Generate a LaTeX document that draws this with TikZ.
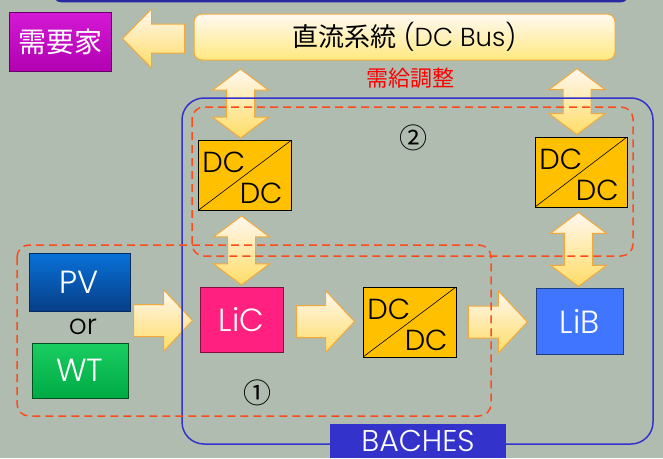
\documentclass[tikz,border=0pt]{standalone}
\usepackage{fontspec}
\setmainfont{Poppins Light}
\newfontfamily\jpfont{Noto Sans CJK JP}
\usetikzlibrary{calc}

\definecolor{bggray}{HTML}{B1BCB0}
\definecolor{bachesblue}{HTML}{3333CC}
\definecolor{dashred}{HTML}{FF4A1A}
\definecolor{convyellow}{HTML}{FFC000}
\definecolor{arrowedge}{HTML}{F2A93B}
\definecolor{demandpink}{HTML}{D000D0}
\definecolor{pvtop}{HTML}{0872D8}
\definecolor{pvbottom}{HTML}{083E88}
\definecolor{wtgreen}{HTML}{00C850}
\definecolor{licpink}{HTML}{FF2080}
\definecolor{libblue}{HTML}{4076FF}

\begin{document}
\begin{tikzpicture}[x=1pt,y=-1pt,
    tile/.style={inner sep=0pt,text=white,line width=1pt,font=\fontsize{32}{32}\selectfont},
    dclabel/.style={inner sep=0pt,minimum width=0pt,minimum height=0pt,font=\fontsize{29}{29}\selectfont},
    conv/.style={draw=black,line width=0.8pt,fill=convyellow,inner sep=0pt,
        minimum width=93pt,minimum height=70pt,
        path picture={
            \draw[line width=0.6pt] (path picture bounding box.south west) -- (path picture bounding box.north east);
            \node[dclabel,anchor=base west] at ($(path picture bounding box.north west)+(4,32)$) {DC};
            \node[dclabel,anchor=base east] at ($(path picture bounding box.south east)+(-8,-7)$) {DC};
        }},
    arrowfill/.style={draw=arrowedge,line width=1pt,top color=orange!6,bottom color=orange!45!yellow!60},
    region/.style={draw=dashred,line width=1.5pt,dash pattern=on 8pt off 5pt,rounded corners=12pt},
    pics/rarrow/.style={code={
        \path[arrowfill] (0,-16) -- (#1-29,-16) -- (#1-29,-31) -- (#1,0) -- (#1-29,31)
            -- (#1-29,16) -- (0,16) -- cycle;}},
    pics/larrow/.style={code={
        \path[arrowfill] (0,0) -- (29,-29.5) -- (29,-14.5) -- (#1,-14.5) -- (#1,14.5)
            -- (29,14.5) -- (29,29.5) -- cycle;}},
    pics/darrow/.style={code={
        \path[arrowfill] (0,0) -- (28,21) -- (14,21) -- (14,#1-21) -- (28,#1-21) -- (0,#1)
            -- (-28,#1-21) -- (-14,#1-21) -- (-14,21) -- (-28,21) -- cycle;}}]

    % background
    \useasboundingbox (0,0) rectangle (663,458);
    \fill[bggray] (0,0) rectangle (663,458);
    \draw[bachesblue!80!black,line width=2.5pt,rounded corners=6pt] (55,-20) -- (55,1) -- (627,1) -- (627,-20);

    % blocks
    \node[tile,top color=demandpink!90!white,bottom color=demandpink!85!black,draw=demandpink!50!black,
        minimum width=102pt,minimum height=59pt,
        font=\jpfont\fontsize{28}{28}\selectfont] (demand) at (60,41.5) {需要家};
    \node[draw=arrowedge,line width=1pt,rounded corners=8pt,top color=orange!5,bottom color=orange!35!yellow!50,
        minimum width=421pt,minimum height=46pt,font=\fontsize{26}{26}\selectfont] (bus) at (404.5,37)
        {{\jpfont 直流系統} (DC Bus)};
    \node[text=red,font=\jpfont\fontsize{22}{22}\selectfont] (adjust) at (410,78) {需給調整};

    \node[conv] (dc1) at (244.5,175.5) {};
    \node[conv,minimum width=92pt] (dc2) at (581,172) {};
    \node[conv] (dc3) at (409.5,322) {};

    \node[tile,top color=pvtop,bottom color=pvbottom,draw=pvbottom!70!black,
        minimum width=101pt,minimum height=58pt] (pv) at (79.5,282) {PV};
    \node[font=\fontsize{28}{28}\selectfont] (or) at (83,327) {or};
    \node[tile,top color=wtgreen!90!white,bottom color=wtgreen!85!black,draw=wtgreen!40!black,
        minimum width=96pt,minimum height=55pt] (wt) at (80,370.5) {WT};
    \node[tile,fill=licpink,draw=licpink!50!black,minimum width=83pt,minimum height=65pt] (lic) at (241.5,319.5) {LiC};
    \node[tile,fill=libblue,draw=libblue!50!black,minimum width=87pt,minimum height=66pt] (lib) at (579.5,321) {LiB};

    % arrows
    \pic at ($(demand.east)+(11,-3)$) {larrow=62};
    \pic at ($(lic.west)+(-66,1)$) {rarrow=59};
    \pic at ($(lic.east)+(13,2)$) {rarrow=58};
    \pic at ($(dc3.east)+(12,0)$) {rarrow=59};
    \pic at ($(dc1.north)+(-4,-71)$) {darrow=69};
    \pic at ($(dc1.south -| lic.north)+(0,5)$) {darrow=69};
    \pic at ($(dc2.north)+(-4,-68)$) {darrow=66};
    \pic at ($(dc2.south -| lib.north)+(-1,5)$) {darrow=74};

    % BACHES frame and regions
    \draw[bachesblue,line width=1.5pt,rounded corners=22pt] (182,98) rectangle (653,444);
    \draw[region] (192,107) rectangle (633,256);
    \draw[region] (17,245) rectangle (491,416);
    \node[font=\jpfont\fontsize{28}{28}\selectfont] (two) at (413,138) {②};
    \node[font=\jpfont\fontsize{28}{28}\selectfont] (one) at (257,393) {①};
    \node[fill=bachesblue,text=white,minimum width=176pt,minimum height=34pt,inner sep=0pt,
        font=\fontsize{30}{30}\selectfont] (baches) at (418,441) {BACHES};
\end{tikzpicture}
\end{document}
